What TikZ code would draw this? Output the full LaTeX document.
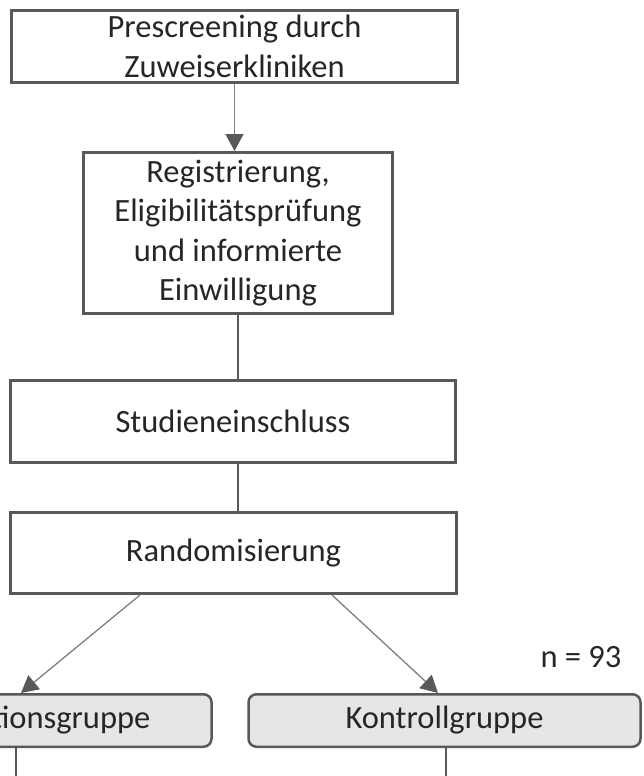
\documentclass[tikz,border=0pt]{standalone}
\usepackage{fontspec}
\setmainfont{Carlito}
\usepackage{xcolor}
\usepackage{tikz}
\usetikzlibrary{arrows.meta, positioning, calc}

\definecolor{linegray}{HTML}{7F7F7F}
\definecolor{framegray}{HTML}{595959}
\definecolor{groupfill}{HTML}{E7E6E6}
\definecolor{textgray}{HTML}{262626}

\begin{document}
\begin{tikzpicture}[x=1pt, y=-1pt,
    every node/.style={font=\fontsize{32.5}{39.5}\selectfont, text=textgray, align=center, inner sep=0pt},
    stepbox/.style={draw=framegray, line width=3pt, fill=white},
    groupbox/.style={draw=framegray, line width=2.5pt, fill=groupfill, rounded corners=8pt, minimum width=392pt, minimum height=52.5pt},
    flow/.style={draw=linegray, line width=1.3pt, -{Triangle[length=17pt, width=18pt, color=framegray]}},
    link/.style={draw=framegray, line width=1.2pt}]
    \useasboundingbox (0,0) rectangle (643,776);
    \clip (0,0) rectangle (643,776);
    \node[stepbox, minimum width=446pt, minimum height=72pt] (pre) at (234.5,46.5) {Prescreening durch\\Zuweiserkliniken};
    \node[stepbox, minimum width=309pt, minimum height=161pt] (reg) at (238,233) {Registrierung,\\Eligibilitätsprüfung\\und informierte\\Einwilligung};
    \node[stepbox, minimum width=445pt, minimum height=82pt] (ein) at (233,421.5) {Studieneinschluss};
    \node[stepbox, minimum width=446pt, minimum height=81pt] (rand) at (233.5,553) {Randomisierung};
    \node[groupbox] (ig) at (15.5,720.5) {Interventionsgruppe};
    \node[groupbox] (kg) at (444.5,720.5) {Kontrollgruppe};
    \node (nk) at (581,657) {n = 93};
    \coordinate (igEnd) at (16,790);
    \coordinate (kgEnd) at (446,790);
    \draw[flow] (pre.south) -- (pre.south |- reg.north);
    \draw[link] (reg.south) -- (reg.south |- ein.north);
    \draw[link] (ein.south -| reg.south) -- (rand.north -| reg.south);
    \draw[flow] ([xshift=-93.5pt]rand.south) -- ([xshift=5.5pt]ig.north);
    \draw[flow] ([xshift=98.5pt]rand.south) -- ([xshift=-6.5pt]kg.north);
    \draw[link] (ig.south -| igEnd) -- (igEnd);
    \draw[link] (kg.south -| kgEnd) -- (kgEnd);
\end{tikzpicture}
\end{document}
